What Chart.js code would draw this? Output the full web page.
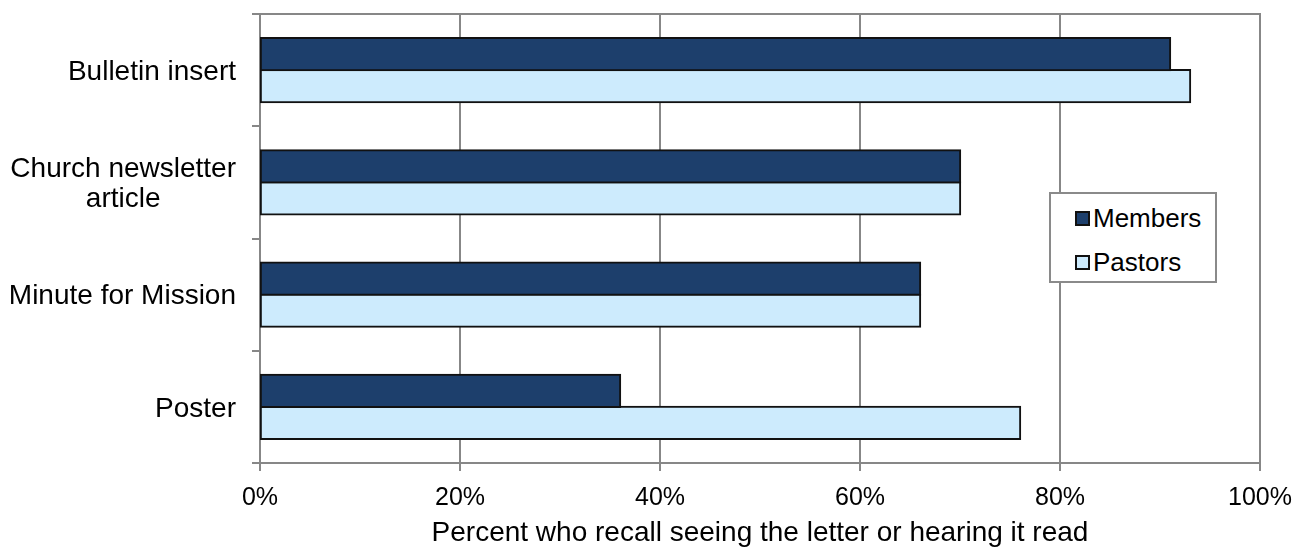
<!DOCTYPE html>
<html>
<head>
<meta charset="utf-8">
<script src="https://cdn.jsdelivr.net/npm/chart.js@4.4.1/dist/chart.umd.min.js"></script>
<style>
  html, body { margin: 0; padding: 0; background: #fff; }
  #wrap { position: relative; width: 1301px; height: 550px; }
  #chart { display: block; }
  #legend {
    position: absolute; left: 1049px; top: 192px; width: 164px; height: 87px;
    border: 2px solid #8a8a8a; background: #fff;
    font-family: "Liberation Sans", Arial, sans-serif; font-size: 26px; color: #000;
    box-sizing: content-box;
  }
  .item { position: absolute; left: 24px; display: flex; align-items: center; }
  .swatch { width: 11px; height: 11px; border: 2px solid #111; margin-right: 3px; }
</style>
</head>
<body>
<div id="wrap">
  <canvas id="chart" width="1301" height="550"></canvas>
  <div id="legend"></div>
</div>
<script>
// Categories (top to bottom) and the share of each group recalling the letter
const categories = ['Bulletin insert', ['Church newsletter', 'article'], 'Minute for Mission', 'Poster'];
const members = [91, 70, 66, 36];
const pastors = [93, 70, 66, 76];
const xTicks = [0, 20, 40, 60, 80, 100];
const axisTitle = 'Percent who recall seeing the letter or hearing it read';

const FONT = '"Liberation Sans", Arial, sans-serif';
const GRID = '#878787';

// Category labels: right-aligned block, lines centred against each other
const categoryLabels = {
  id: 'categoryLabels',
  afterDraw(chart) {
    const { ctx, chartArea, scales: { y } } = chart;
    ctx.save();
    ctx.font = '28px ' + FONT;
    ctx.fillStyle = '#000';
    ctx.textAlign = 'center';
    ctx.textBaseline = 'middle';
    categories.forEach((label, i) => {
      const lines = Array.isArray(label) ? label : [label];
      const w = Math.max(...lines.map(t => ctx.measureText(t).width));
      const cx = chartArea.left - 24 - w / 2;
      const cy = y.getPixelForValue(i) + 2;
      const lh = 30;
      lines.forEach((t, k) => ctx.fillText(t, cx, cy + (k - (lines.length - 1) / 2) * lh));
    });
    // plot area top edge
    ctx.strokeStyle = GRID;
    ctx.lineWidth = 2;
    ctx.beginPath();
    ctx.moveTo(chartArea.left, chartArea.top);
    ctx.lineTo(chartArea.right + 1, chartArea.top);
    ctx.stroke();
    ctx.restore();
  }
};

const chart = new Chart(document.getElementById('chart'), {
  type: 'bar',
  data: {
    labels: categories.map(c => Array.isArray(c) ? c.join(' ') : c),
    datasets: [
      { label: 'Members', data: members, backgroundColor: '#1d3f6c', borderColor: '#111', borderWidth: 2, borderSkipped: false, inflateAmount: 1.2 },
      { label: 'Pastors', data: pastors, backgroundColor: '#cdebfd', borderColor: '#111', borderWidth: 2, borderSkipped: false, inflateAmount: 1.2 }
    ]
  },
  options: {
    indexAxis: 'y',
    responsive: false,
    animation: false,
    layout: { padding: { top: 14, right: 41, left: 0, bottom: 0 } },
    datasets: { bar: { categoryPercentage: 0.57, barPercentage: 1.0 } },
    plugins: { legend: { display: false }, tooltip: { enabled: false } },
    scales: {
      x: {
        min: 0, max: 100,
        afterBuildTicks: s => { s.ticks = xTicks.map(v => ({ value: v })); },
        ticks: {
          callback: v => v + '%',
          color: '#000',
          font: { family: FONT, size: 25 },
          padding: 12,
          maxRotation: 0
        },
        grid: { color: GRID, lineWidth: 2, tickLength: 8 },
        border: { color: GRID, width: 2 },
        title: {
          display: true, text: axisTitle, color: '#000',
          font: { family: FONT, size: 28 },
          padding: { top: 4, bottom: 0 }
        },
        afterFit: s => { s.height = 87; s.paddingLeft = 0; s.paddingRight = 0; }
      },
      y: {
        ticks: { display: false },
        grid: { color: GRID, lineWidth: 2, tickLength: 8, drawOnChartArea: false },
        border: { color: GRID, width: 2 },
        afterFit: s => { s.width = 260; }
      }
    }
  },
  plugins: [categoryLabels]
});

// Legend built from the chart's datasets
const legend = document.getElementById('legend');
chart.data.datasets.forEach((ds, i) => {
  const item = document.createElement('div');
  item.className = 'item';
  item.style.top = (i === 0 ? 9 : 53) + 'px';
  const sw = document.createElement('span');
  sw.className = 'swatch';
  sw.style.background = ds.backgroundColor;
  const txt = document.createElement('span');
  txt.textContent = ds.label;
  item.appendChild(sw);
  item.appendChild(txt);
  legend.appendChild(item);
});
</script>
</body>
</html>
